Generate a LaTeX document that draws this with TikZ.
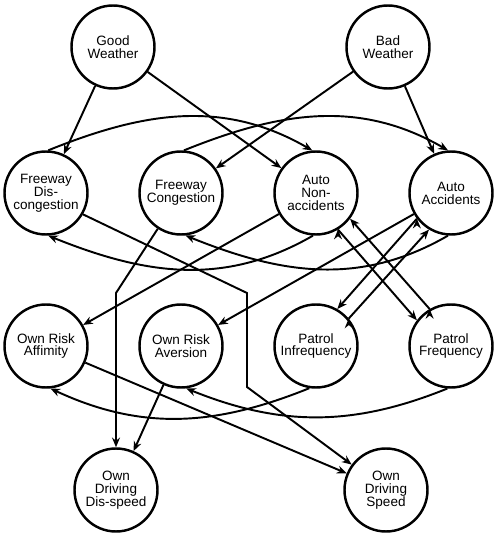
\documentclass[tikz,border=0pt]{standalone}
\usepackage{fontspec}
\setmainfont{Liberation Sans}
\usetikzlibrary{automata,positioning,arrows.meta}
\tikzset{
->,
>={Stealth[length=5.5pt,width=4.5pt]},
node distance=2.7cm,
every state/.style={line width=1.4pt, minimum size=1.66cm, inner sep=0pt, align=center,
  font=\fontsize{7.7}{7.3}\selectfont},
}

\begin{document}
\begin{tikzpicture}[line width=1.1pt]
    \useasboundingbox (0,0) rectangle (10,10.7);

    \node[state] (gw) at (2.26,9.76) {Good\\Weather};
    \node[state,right of=gw,node distance=5.5cm] (bw) {Bad\\Weather};

    \node[state] (fd) at (0.92,6.84) {Freeway\\Dis-\\congestion};
    \node[state,right of=fd] (fc) {Freeway\\Congestion};
    \node[state,right of=fc] (ana) {Auto\\Non-\\accidents};
    \node[state,right of=ana] (aa) {Auto\\Accidents};

    \node[state,below of=fd,node distance=3.06cm] (oraff) {Own Risk\\Affimity};
    \node[state,right of=oraff] (orav) {Own Risk\\Aversion};
    \node[state,right of=orav] (pi) {Patrol\\Infrequency};
    \node[state,right of=pi] (pf) {Patrol\\Frequency};

    \node[state] (odd) at (2.32,0.90) {Own\\Driving\\Dis-speed};
    \node[state,right of=odd,node distance=5.4cm] (ods) {Own\\Driving\\Speed};

    \draw (gw) edge (fd);
    \draw (gw) edge (ana);
    \draw (bw) edge (fc);
    \draw (bw) edge (aa);

    \draw (fd.87) to[out=22,in=150] (ana.95);
    \draw (fc.86) to[out=22,in=150] (aa.94);
    \draw (ana.-94) to[out=-150,in=-22] (fd.-87);
    \draw (aa.-94) to[out=-150,in=-22] (fc.-84);

    \draw (fd.-30) -- (4.94,4.84) -- (4.94,2.96) -- (ods);
    \draw (fc) -- (2.32,4.84) -- (odd);
    \draw (ana) edge (oraff);
    \draw (aa) edge (orav);

    \draw (ana.-59) edge (pf.143);
    \draw (pf.120) edge (ana.-37);
    \draw (aa.217) edge (pi.60);
    \draw (pi.40) edge (aa.239);

    \draw (oraff) edge (ods);
    \draw (orav) edge (odd);
    \draw (pi.-99) to[out=-158,in=-25] (oraff.-84);
    \draw (pf.-95) to[out=-158,in=-22] (orav.-83);

\end{tikzpicture}
\end{document}
